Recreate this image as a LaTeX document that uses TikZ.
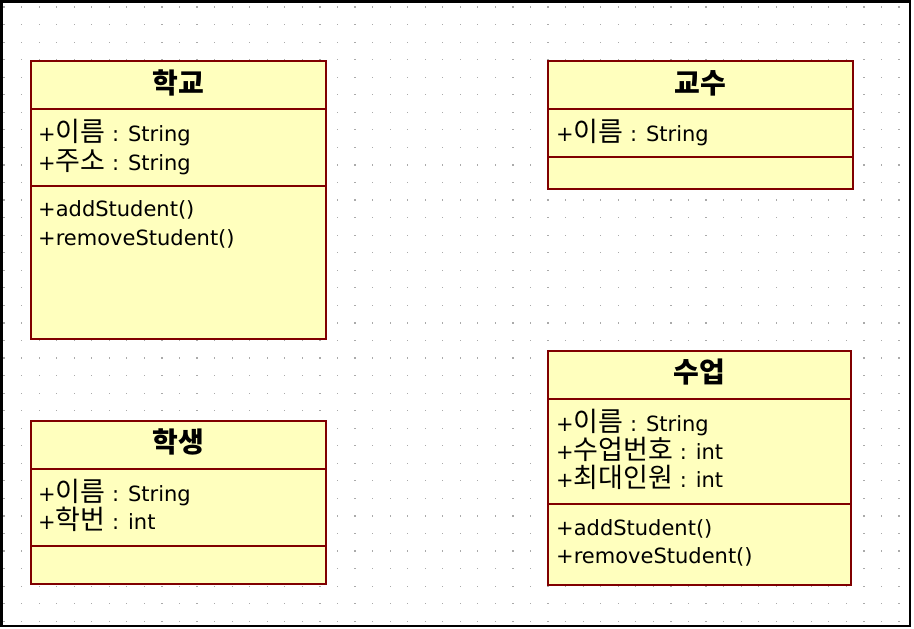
\documentclass[tikz,border=0pt]{standalone}
\usepackage{fontspec}
\setmainfont{DejaVu Sans}
\newfontfamily\kr{Noto Sans CJK KR}
\usetikzlibrary{calc}
\definecolor{boxred}{RGB}{128,0,0}
\definecolor{boxfill}{RGB}{255,255,190}
\definecolor{dotgray}{RGB}{170,170,170}
\newcommand\ko[1]{{\kr\fontsize{27}{27}\selectfont #1}}
\tikzset{
  classbox/.style={draw=boxred, line width=2pt, fill=boxfill, anchor=north west, inner sep=0pt, outer sep=0pt},
  divider/.style={draw=boxred, line width=2pt},
  ctitle/.style={font=\kr\bfseries\fontsize{28}{28}\selectfont, anchor=base, inner sep=0pt},
  member/.style={font=\fontsize{21}{24}\selectfont, anchor=base west, inner sep=0pt},
}
\begin{document}
\begin{tikzpicture}[x=1pt,y=-1pt]
\useasboundingbox (0,0) rectangle (914,629);
\fill[white] (0,0) rectangle (914,629);
% dotted grid
\foreach \i in {0,...,51}{
  \foreach \j in {0,...,35}{
    \fill[dotgray] ({4+17.55*\i-0.6},{7+17.55*\j-0.6}) rectangle ++(1.2,1.2);
  }
}
\draw[black, line width=2.5pt] (1.3,1.3) rectangle (910,626);

% 학교
\node[classbox, minimum width=295.5pt, minimum height=277.5pt] (school) at (30.5,61) {};
\draw[divider] ($(school.north west)+(0,47.5)$) -- ($(school.north east)+(0,47.5)$);
\draw[divider] ($(school.north west)+(0,124.5)$) -- ($(school.north east)+(0,124.5)$);
\node[ctitle] (schoolT) at (178,93) {학교};
\node[member] (schoolA1) at (38,141) {+\ko{이름} : String};
\node[member] (schoolA2) at (38,170) {+\ko{주소} : String};
\node[member] (schoolM1) at (38,216) {+addStudent()};
\node[member] (schoolM2) at (38,245) {+removeStudent()};

% 교수
\node[classbox, minimum width=304.5pt, minimum height=128pt] (prof) at (548,61) {};
\draw[divider] ($(prof.north west)+(0,48)$) -- ($(prof.north east)+(0,48)$);
\draw[divider] ($(prof.north west)+(0,96)$) -- ($(prof.north east)+(0,96)$);
\node[ctitle] (profT) at (700,93) {교수};
\node[member] (profA1) at (556,141) {+\ko{이름} : String};

% 학생
\node[classbox, minimum width=295.5pt, minimum height=163.5pt] (student) at (30.5,420.5) {};
\draw[divider] ($(student.north west)+(0,48.5)$) -- ($(student.north east)+(0,48.5)$);
\draw[divider] ($(student.north west)+(0,125)$) -- ($(student.north east)+(0,125)$);
\node[ctitle] (studentT) at (178,452.5) {학생};
\node[member] (studentA1) at (38,501) {+\ko{이름} : String};
\node[member] (studentA2) at (38,529) {+\ko{학번} : int};

% 수업
\node[classbox, minimum width=302.5pt, minimum height=233.5pt] (lecture) at (548,351) {};
\draw[divider] ($(lecture.north west)+(0,48)$) -- ($(lecture.north east)+(0,48)$);
\draw[divider] ($(lecture.north west)+(0,153)$) -- ($(lecture.north east)+(0,153)$);
\node[ctitle] (lectureT) at (699,382.5) {수업};
\node[member] (lectureA1) at (556,431) {+\ko{이름} : String};
\node[member] (lectureA2) at (556,459) {+\ko{수업번호} : int};
\node[member] (lectureA3) at (556,487) {+\ko{최대인원} : int};
\node[member] (lectureM1) at (556,535) {+addStudent()};
\node[member] (lectureM2) at (556,563) {+removeStudent()};
\end{tikzpicture}
\end{document}
